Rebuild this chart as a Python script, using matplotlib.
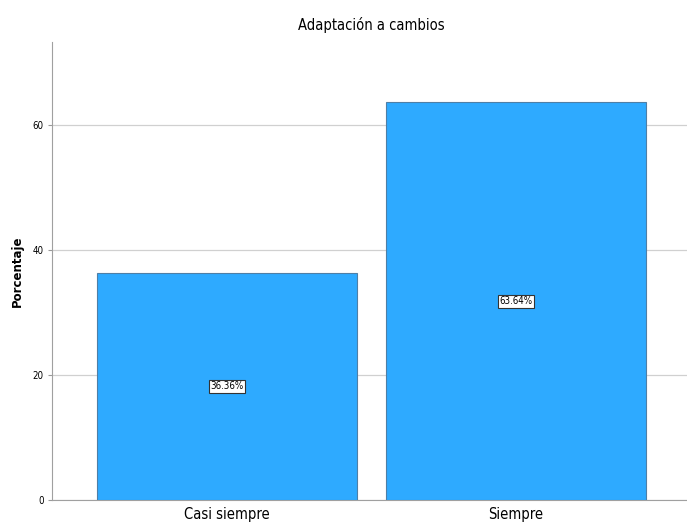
import matplotlib.pyplot as plt

categories = ['Casi siempre', 'Siempre']
percentages = [36.36, 63.64]
value_labels = ['36.36%', '63.64%']

plt.rcParams['font.family'] = ['DejaVu Sans']
plt.rcParams['font.stretch'] = 'condensed'

fig = plt.figure(figsize=(6.87, 5.26), dpi=100)
ax = fig.add_axes([0.0757, 0.0494, 0.93, 0.8706])

x = range(len(categories))
bars = ax.bar(x, percentages, width=0.9, color='#2eaaff', edgecolor='#4f7fa6',
              linewidth=0.8, zorder=3)

for rect, txt in zip(bars, value_labels):
    ax.text(rect.get_x() + rect.get_width() / 2, rect.get_height() / 2, txt,
            ha='center', va='center', fontsize=7, zorder=4,
            bbox=dict(boxstyle='square,pad=0.15', fc='white', ec='#333333', lw=0.8))

ax.set_xlim(-0.605, 1.605)
ax.set_ylim(0, 73.3)
ax.set_yticks([0, 20, 40, 60])
ax.set_xticks(list(x))
ax.set_xticklabels(categories, fontsize=10.5)
ax.tick_params(axis='y', labelsize=7, length=3, color='#999999', pad=3)
ax.tick_params(axis='x', length=0, pad=5)
ax.yaxis.grid(True, color='#d0d0d0', linewidth=0.9, zorder=0)

for side in ['top', 'right']:
    ax.spines[side].set_visible(False)
ax.spines['left'].set_color('#a0a0a0')
ax.spines['bottom'].set_color('#a0a0a0')

ax.set_ylabel('Porcentaje', fontsize=8.5, fontweight='bold', fontstretch='normal', labelpad=6)
ax.set_title('Adaptación a cambios', fontsize=10.5, pad=9)

fig.savefig('out.png', dpi=100)
